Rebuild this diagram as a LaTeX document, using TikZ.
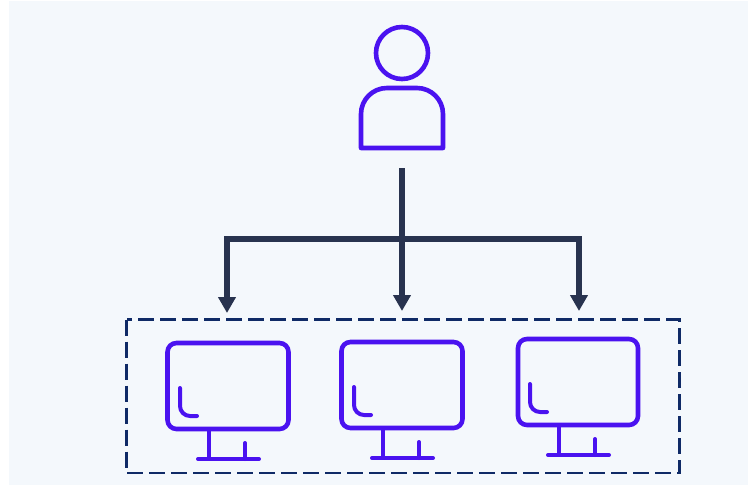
\documentclass[tikz,border=0pt]{standalone}
\usepackage{xcolor}
\usepackage{tikz}
\usetikzlibrary{arrows.meta}

\definecolor{panelbg}{HTML}{F4F8FC}
\definecolor{iconviolet}{HTML}{4A12F0}
\definecolor{wiredark}{HTML}{28334F}
\definecolor{groupnavy}{HTML}{0F2A66}

\tikzset{
  icon/.style={draw=iconviolet, line width=4.6pt},
  iconthin/.style={draw=iconviolet, line width=4pt, line cap=round},
  wire/.style={draw=wiredark, line width=5.2pt},
  drop/.style={wire, -{Triangle[length=16pt, width=17pt]}},
  screen/.style={icon, rounded corners=9pt, inner sep=0pt, minimum height=86pt}
}

\begin{document}
\begin{tikzpicture}[x=1pt, y=-1pt]
  \useasboundingbox (0,0) rectangle (748,485);
  \fill[panelbg] (9,1) rectangle (748,485);

  % user
  \node[icon, circle, inner sep=0pt, minimum size=52pt] (head) at (402,53) {};
  \draw[icon, line join=round] (361,148) [rounded corners=26pt] -- (361,88) -- (443,88)
    [sharp corners] -- (443,148) -- cycle;

  % wires
  \coordinate (source) at (402,168);
  \coordinate (split) at (402,239);
  \coordinate (leftend) at (227,313);
  \coordinate (midend) at (402,311);
  \coordinate (rightend) at (579,311);
  \draw[drop] (source) -- (midend);
  \draw[drop] (split) -| (leftend);
  \draw[drop] (split) -| (rightend);

  % group of computers
  \draw[groupnavy, line width=2.2pt, dash pattern=on 16pt off 6pt] (126.5,319.5) rectangle (679.5,473);

  \foreach \n/\shiftx/\shifty/\screenw in {1/0/0/121, 2/174/-1/121, 3/350/-4/120} {
    \begin{scope}[shift={(\shiftx,\shifty)}]
      \node[screen, minimum width=\screenw pt] (screen\n) at (228,386) {};
      \draw[iconthin, rounded corners=10pt] (180,388) -- (180,416) -- (197,416);
      \draw[icon, line width=4pt] (209,429) -- (209,459);
      \draw[iconthin] (198,459) -- (259,459);
      \draw[iconthin] (245,443) -- (245,459);
    \end{scope}
  }
\end{tikzpicture}
\end{document}
